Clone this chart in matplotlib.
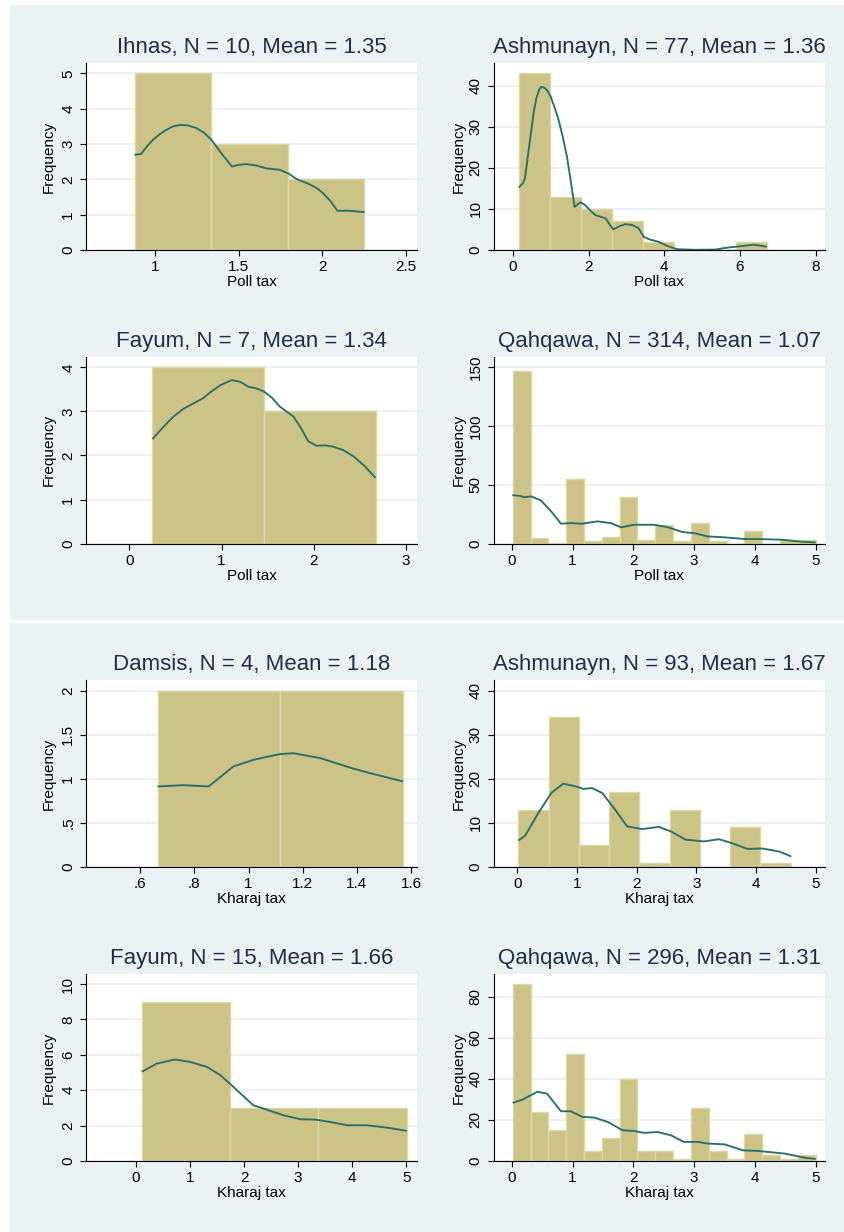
import matplotlib
matplotlib.use('Agg')
import matplotlib.pyplot as plt
import matplotlib.transforms as mtransforms
from matplotlib.patches import Rectangle
import numpy as np

plt.rcParams['font.family'] = ['Liberation Sans', 'DejaVu Sans']

# ------------------------------------------------------------------ data
# Poll tax
ihnas_poll_title = "Ihnas, N = 10, Mean = 1.35"
ihnas_poll_counts = [5, 3, 2]
ihnas_poll_bin_start = 0.88
ihnas_poll_bin_width = 0.457
ihnas_poll_kde_x = [0.878, 0.918, 0.95, 0.988, 1.03, 1.068, 1.11, 1.157, 1.20, 1.247, 1.29, 1.337, 1.396,
                    1.46, 1.50, 1.546, 1.606, 1.665, 1.745, 1.80, 1.845, 1.924, 1.97, 2.004, 2.05, 2.09,
                    2.163, 2.253]
ihnas_poll_kde_y = [2.69, 2.72, 2.92, 3.12, 3.28, 3.40, 3.50, 3.54, 3.52, 3.45, 3.33, 3.12, 2.74,
                    2.36, 2.41, 2.43, 2.39, 2.31, 2.27, 2.16, 2.01, 1.86, 1.74, 1.61, 1.38, 1.11,
                    1.11, 1.07]
ihnas_poll_xticks = [1, 1.5, 2, 2.5]
ihnas_poll_xlabels = ["1", "1.5", "2", "2.5"]
ihnas_poll_yticks = [0, 1, 2, 3, 4, 5]
ihnas_poll_ylabels = ["0", "1", "2", "3", "4", "5"]

ashm_poll_title = "Ashmunayn, N = 77, Mean = 1.36"
ashm_poll_counts = [43, 13, 10, 7, 2, 0, 0, 2]
ashm_poll_bin_start = 0.158
ashm_poll_bin_width = 0.819
ashm_poll_kde_x = [0.158, 0.26, 0.32, 0.43, 0.50, 0.56, 0.62, 0.69, 0.75, 0.80, 0.86, 0.93, 1.0, 1.10,
                   1.21, 1.32, 1.43, 1.54, 1.63, 1.72, 1.79, 1.9, 2.05, 2.18, 2.45, 2.65, 2.8, 2.97,
                   3.15, 3.32, 3.46, 3.6, 3.85, 4.1, 4.34, 4.8, 5.35, 5.6, 5.88, 6.1, 6.36, 6.71]
ashm_poll_kde_y = [15.2, 16.2, 17.4, 25.1, 30.0, 34.0, 36.8, 38.9, 39.7, 39.6, 39.3, 38.5, 37.3, 34.8,
                   31.6, 27.5, 22.7, 16.2, 10.5, 11.2, 11.6, 11.0, 9.6, 8.5, 7.7, 5.0, 5.7, 6.3,
                   6.1, 5.3, 3.2, 2.6, 2.0, 0.9, 0.2, 0.05, 0.1, 0.5, 0.8, 1.0, 1.3, 0.8]
ashm_poll_xticks = [0, 2, 4, 6, 8]
ashm_poll_xlabels = ["0", "2", "4", "6", "8"]
ashm_poll_yticks = [0, 10, 20, 30, 40]
ashm_poll_ylabels = ["0", "10", "20", "30", "40"]

fayum_poll_title = "Fayum, N = 7, Mean = 1.34"
fayum_poll_counts = [4, 3]
fayum_poll_bin_start = 0.25
fayum_poll_bin_width = 1.21
fayum_poll_kde_x = [0.25, 0.36, 0.477, 0.58, 0.694, 0.80, 0.875, 0.99, 1.11, 1.20, 1.29, 1.38, 1.46,
                    1.55, 1.63, 1.78, 1.86, 1.94, 2.03, 2.12, 2.21, 2.32, 2.43, 2.55, 2.67]
fayum_poll_kde_y = [2.37, 2.63, 2.88, 3.05, 3.18, 3.30, 3.43, 3.60, 3.71, 3.67, 3.56, 3.52, 3.45,
                    3.30, 3.11, 2.88, 2.62, 2.32, 2.22, 2.23, 2.20, 2.12, 1.98, 1.76, 1.49]
fayum_poll_xticks = [0, 1, 2, 3]
fayum_poll_xlabels = ["0", "1", "2", "3"]
fayum_poll_yticks = [0, 1, 2, 3, 4]
fayum_poll_ylabels = ["0", "1", "2", "3", "4"]

qahq_poll_title = "Qahqawa, N = 314, Mean = 1.07"
qahq_poll_counts = [147, 5, 1, 55, 2, 6, 40, 3, 16, 2, 18, 2, 0, 11, 0, 3, 3]
qahq_poll_bin_start = 0.016
qahq_poll_bin_width = 0.2932
qahq_poll_kde_x = [0.01, 0.15, 0.2, 0.32, 0.48, 0.65, 0.81, 0.97, 1.16, 1.41, 1.63, 1.80, 2.01, 2.34,
                   2.56, 2.81, 3.00, 3.22, 3.50, 3.83, 4.05, 4.44, 4.77, 5.0]
qahq_poll_kde_y = [41.3, 40.5, 39.5, 40.2, 36.8, 27.4, 17.0, 17.5, 17.0, 19.0, 17.5, 13.9, 16.1, 16.1,
                   14.1, 9.9, 9.0, 6.2, 5.4, 4.0, 4.0, 3.4, 1.7, 1.1]
qahq_poll_xticks = [0, 1, 2, 3, 4, 5]
qahq_poll_xlabels = ["0", "1", "2", "3", "4", "5"]
qahq_poll_yticks = [0, 50, 100, 150]
qahq_poll_ylabels = ["0", "50", "100", "150"]

# Kharaj tax
damsis_kh_title = "Damsis, N = 4, Mean = 1.18"
damsis_kh_counts = [2, 2]
damsis_kh_bin_start = 0.664
damsis_kh_bin_width = 0.453
damsis_kh_kde_x = [0.664, 0.76, 0.852, 0.90, 0.944, 1.018, 1.07, 1.116, 1.166, 1.265, 1.382, 1.449, 1.57]
damsis_kh_kde_y = [0.913, 0.928, 0.913, 1.03, 1.14, 1.215, 1.25, 1.28, 1.29, 1.234, 1.12, 1.064, 0.97]
damsis_kh_xticks = [0.6, 0.8, 1.0, 1.2, 1.4, 1.6]
damsis_kh_xlabels = [".6", ".8", "1", "1.2", "1.4", "1.6"]
damsis_kh_yticks = [0, 0.5, 1, 1.5, 2]
damsis_kh_ylabels = ["0", ".5", "1", "1.5", "2"]

ashm_kh_title = "Ashmunayn, N = 93, Mean = 1.67"
ashm_kh_counts = [13, 34, 5, 17, 1, 13, 0, 9, 1]
ashm_kh_bin_start = 0.017
ashm_kh_bin_width = 0.507
ashm_kh_kde_x = [0.017, 0.13, 0.35, 0.57, 0.77, 0.97, 1.11, 1.25, 1.42, 1.64, 1.84, 2.09, 2.37, 2.57,
                 2.82, 3.13, 3.38, 3.6, 3.86, 4.11, 4.39, 4.59]
ashm_kh_kde_y = [6.0, 7.1, 12.2, 16.8, 18.9, 18.3, 17.7, 17.9, 16.8, 13.0, 9.2, 8.6, 9.1, 8.1,
                 6.2, 5.8, 6.3, 5.4, 4.1, 4.2, 3.5, 2.4]
ashm_kh_xticks = [0, 1, 2, 3, 4, 5]
ashm_kh_xlabels = ["0", "1", "2", "3", "4", "5"]
ashm_kh_yticks = [0, 10, 20, 30, 40]
ashm_kh_ylabels = ["0", "10", "20", "30", "40"]

fayum_kh_title = "Fayum, N = 15, Mean = 1.66"
fayum_kh_counts = [9, 3, 3]
fayum_kh_bin_start = 0.105
fayum_kh_bin_width = 1.635
fayum_kh_kde_x = [0.105, 0.38, 0.72, 1.0, 1.31, 1.56, 1.80, 2.17, 2.42, 2.73, 3.04, 3.32, 3.6, 3.91,
                  4.27, 4.64, 5.01]
fayum_kh_kde_y = [5.04, 5.5, 5.74, 5.6, 5.32, 4.85, 4.19, 3.15, 2.9, 2.58, 2.36, 2.34, 2.2, 2.02,
                  2.02, 1.89, 1.70]
fayum_kh_xticks = [0, 1, 2, 3, 4, 5]
fayum_kh_xlabels = ["0", "1", "2", "3", "4", "5"]
fayum_kh_yticks = [0, 2, 4, 6, 8, 10]
fayum_kh_ylabels = ["0", "2", "4", "6", "8", "10"]

qahq_kh_title = "Qahqawa, N = 296, Mean = 1.31"
qahq_kh_counts = [86, 24, 15, 52, 5, 11, 40, 5, 5, 1, 26, 5, 1, 13, 3, 1, 3]
qahq_kh_bin_start = 0.016
qahq_kh_bin_width = 0.2932
qahq_kh_kde_x = [0.016, 0.18, 0.42, 0.58, 0.81, 0.97, 1.16, 1.36, 1.58, 1.82, 2.01, 2.18, 2.4, 2.62,
                 2.83, 3.06, 3.22, 3.5, 3.8, 4.05, 4.49, 4.82, 5.0]
qahq_kh_kde_y = [28.3, 29.9, 33.7, 32.8, 24.2, 24.2, 21.5, 21.1, 19.0, 15.0, 14.6, 13.7, 14.1, 12.5,
                 9.3, 9.3, 8.5, 8.1, 5.2, 4.9, 3.6, 1.6, 1.0]
qahq_kh_xticks = [0, 1, 2, 3, 4, 5]
qahq_kh_xlabels = ["0", "1", "2", "3", "4", "5"]
qahq_kh_yticks = [0, 20, 40, 60, 80]
qahq_kh_ylabels = ["0", "20", "40", "60", "80"]

# ------------------------------------------------------------------ style
W, H, DPI = 845, 1232, 100
BG = '#EAF2F3'
GRID = '#E6EEF1'
FILL = '#CBC486'
EDGE = '#DCD7A6'
KDE = '#27706A'
TITLE_C = '#1F2D4F'

fig = plt.figure(figsize=(W / DPI, H / DPI), dpi=DPI, facecolor='white')

# panel backgrounds (pixel boxes)
for (x0, y0, x1, y1) in [(10, 5, 845, 620), (10, 623, 845, 1232)]:
    fig.patches.append(Rectangle((x0 / W, 1 - y1 / H), (x1 - x0) / W, (y1 - y0) / H,
                                 transform=fig.transFigure, facecolor=BG, edgecolor='none',
                                 zorder=-10))

panels = [
    # title, counts, start, width, kdex, kdey, xticks, xlabels, yticks, ylabels, xlim, ylim, xlabel, col, row
    (ihnas_poll_title, ihnas_poll_counts, ihnas_poll_bin_start, ihnas_poll_bin_width, ihnas_poll_kde_x,
     ihnas_poll_kde_y, ihnas_poll_xticks, ihnas_poll_xlabels, ihnas_poll_yticks, ihnas_poll_ylabels,
     (0.588, 2.566), (0, 5.29), "Poll tax", 0, 0),
    (ashm_poll_title, ashm_poll_counts, ashm_poll_bin_start, ashm_poll_bin_width, ashm_poll_kde_x,
     ashm_poll_kde_y, ashm_poll_xticks, ashm_poll_xlabels, ashm_poll_yticks, ashm_poll_ylabels,
     (-0.51, 8.245), (0, 45.5), "Poll tax", 1, 0),
    (fayum_poll_title, fayum_poll_counts, fayum_poll_bin_start, fayum_poll_bin_width, fayum_poll_kde_x,
     fayum_poll_kde_y, fayum_poll_xticks, fayum_poll_xlabels, fayum_poll_yticks, fayum_poll_ylabels,
     (-0.47, 3.118), (0, 4.24), "Poll tax", 0, 1),
    (qahq_poll_title, qahq_poll_counts, qahq_poll_bin_start, qahq_poll_bin_width, qahq_poll_kde_x,
     qahq_poll_kde_y, qahq_poll_xticks, qahq_poll_xlabels, qahq_poll_yticks, qahq_poll_ylabels,
     (-0.30, 5.153), (0, 159), "Poll tax", 1, 1),
    (damsis_kh_title, damsis_kh_counts, damsis_kh_bin_start, damsis_kh_bin_width, damsis_kh_kde_x,
     damsis_kh_kde_y, damsis_kh_xticks, damsis_kh_xlabels, damsis_kh_yticks, damsis_kh_ylabels,
     (0.40, 1.622), (0, 2.12), "Kharaj tax", 0, 2),
    (ashm_kh_title, ashm_kh_counts, ashm_kh_bin_start, ashm_kh_bin_width, ashm_kh_kde_x,
     ashm_kh_kde_y, ashm_kh_xticks, ashm_kh_xlabels, ashm_kh_yticks, ashm_kh_ylabels,
     (-0.40, 5.157), (0, 42.4), "Kharaj tax", 1, 2),
    (fayum_kh_title, fayum_kh_counts, fayum_kh_bin_start, fayum_kh_bin_width, fayum_kh_kde_x,
     fayum_kh_kde_y, fayum_kh_xticks, fayum_kh_xlabels, fayum_kh_yticks, fayum_kh_ylabels,
     (-0.926, 5.198), (0, 10.57), "Kharaj tax", 0, 3),
    (qahq_kh_title, qahq_kh_counts, qahq_kh_bin_start, qahq_kh_bin_width, qahq_kh_kde_x,
     qahq_kh_kde_y, qahq_kh_xticks, qahq_kh_xlabels, qahq_kh_yticks, qahq_kh_ylabels,
     (-0.30, 5.153), (0, 91), "Kharaj tax", 1, 3),
]

col_left = [86, 493.5]
col_width = [331, 331.5]
row_top = [63, 356.7, 680, 974]
row_h = 187
ylabel_off = [-30.5, -28.0]

for (title, counts, start, width, kx, ky, xt, xl, yt, yl, xlim, ylim, xlab, c, r) in panels:
    l, w, t = col_left[c], col_width[c], row_top[r]
    ax = fig.add_axes([l / W, 1 - (t + row_h) / H, w / W, row_h / H])
    ax.set_zorder(1)
    ax.set_facecolor('white')
    n = len(counts)
    lefts = start + width * np.arange(n)
    ax.bar(lefts, counts, width=width, align='edge', color=FILL, edgecolor=EDGE,
           linewidth=1.0, zorder=2)
    ax.plot(kx, ky, color=KDE, lw=1.35, zorder=3, solid_joinstyle='round', solid_capstyle='butt')
    ax.set_xlim(*xlim)
    ax.set_ylim(*ylim)
    ax.set_xticks(xt)
    ax.set_xticklabels(xl)
    ax.set_yticks(yt)
    ax.set_yticklabels(yl, rotation=90, va='center')
    ax.yaxis.grid(True, color=GRID, lw=1.1)
    ax.set_axisbelow(True)
    for s in ['top', 'right']:
        ax.spines[s].set_visible(False)
    for s in ['left', 'bottom']:
        ax.spines[s].set_color('black')
        ax.spines[s].set_linewidth(0.8)
        ax.spines[s].set_zorder(4)
    ax.tick_params(axis='both', direction='out', length=4.3, width=0.8, color='black',
                   labelsize=11, labelcolor='black')
    ax.tick_params(axis='y', pad=3.5)
    ax.tick_params(axis='x', pad=3.0)
    ax.set_title(title, fontsize=16, color=TITLE_C, pad=7.2)
    ax.set_xlabel(xlab, fontsize=11)
    ax.set_ylabel("Frequency", fontsize=11)
    ax.xaxis.set_label_coords(0.5, 0, transform=mtransforms.offset_copy(
        ax.transAxes, fig=fig, x=0, y=-25.5, units='dots'))
    ax.yaxis.set_label_coords(0, 0.5, transform=mtransforms.offset_copy(
        ax.transAxes, fig=fig, x=ylabel_off[c], y=0, units='dots'))

fig.savefig('out.png', dpi=DPI, facecolor='white')
